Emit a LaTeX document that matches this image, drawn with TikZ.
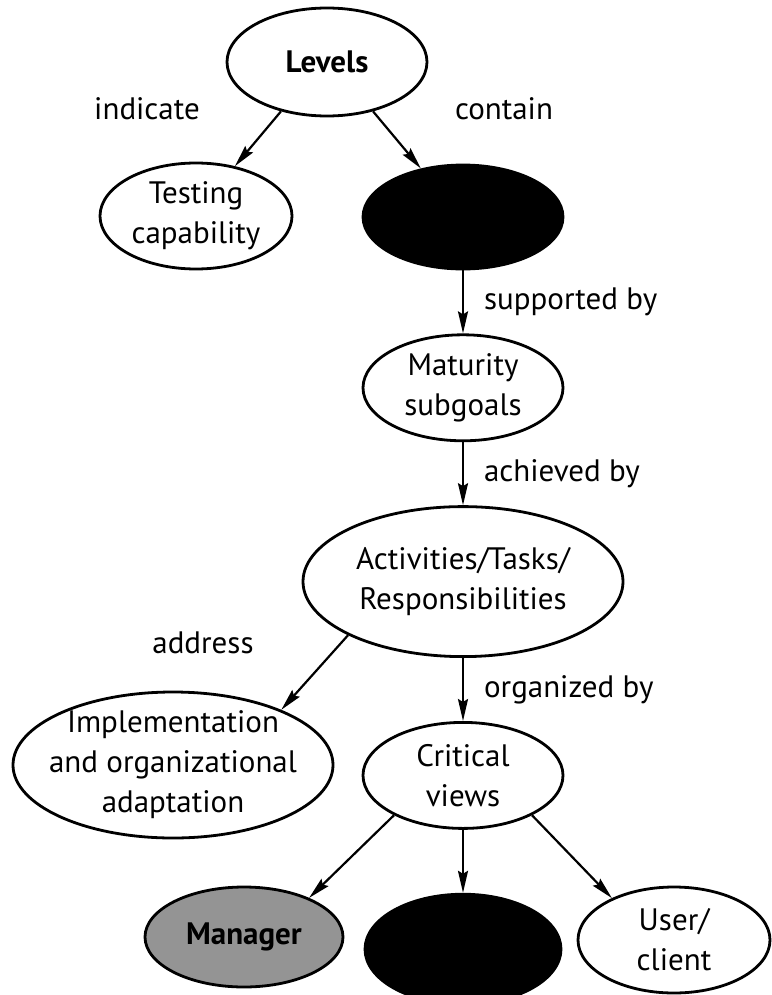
\documentclass[tikz,border=0pt]{standalone}
\usepackage{fontspec}
\setmainfont{PT Sans}
\usetikzlibrary{arrows.meta,shapes.geometric,positioning}

\begin{document}
\begin{tikzpicture}[
        x=0.5pt, y=-0.5pt,
        node distance=31.5pt,
        every node/.style={font=\fontsize{15.5}{20}\selectfont, align=center},
        bubble/.style={draw, ellipse, line width=1.4pt, inner sep=0pt},
        hidden/.style={bubble, fill=black},
        link/.style={line width=1.1pt, -{Stealth[length=11pt, width=5pt, inset=1.5pt]}},
        lbl/.style={inner sep=0pt}
    ]
    \useasboundingbox (0,0) rectangle (771,995);

    % Nodes
    \node (levels) [bubble, minimum width=100pt, minimum height=54pt] at (327,62) {\textbf{Levels}};
    \node (testing) [bubble, minimum width=96pt, minimum height=53pt] at (196,216) {Testing\\capability};
    \node (goals) [hidden, minimum width=100pt, minimum height=52pt] at (463,217) {};
    \node (subgoals) [bubble, below=of goals, minimum width=100pt, minimum height=53pt] {Maturity\\subgoals};
    \node (tasks) [bubble, below=of subgoals, minimum width=160pt, minimum height=75pt] {Activities/Tasks/\\Responsibilities};
    \node (views) [bubble, below=of tasks, minimum width=100pt, minimum height=53pt] {Critical\\views};
    \node (developer) [hidden, below=of views, minimum width=98pt, minimum height=55pt] {};
    \node (impl) [bubble, minimum width=160pt, minimum height=73pt, inner xsep=-9pt, inner ysep=-5pt] at (173,765) {Implementation\\and organizational\\adaptation};
    \node (manager) [bubble, fill=black!42, minimum width=99pt, minimum height=50pt] at (244,937) {\textbf{Manager}};
    \node (user) [bubble, minimum width=96pt, minimum height=53pt] at (674,940) {User/\\client};

    % Labels
    \node (indicate) at (147,109) {indicate};
    \node (contain) at (504,109) {contain};
    \node (address) at (203,643) {address};

    % Edges
    \draw[link] (levels.-133) -- (testing.52);
    \draw[link] (levels.-47) -- (goals.131);
    \draw[link] (goals) -- node[lbl, right=10pt] {supported by} (subgoals);
    \draw[link] (subgoals) -- node[lbl, right=10pt] {achieved by} (tasks);
    \draw[link] (tasks.-155) -- (impl.27);
    \draw[link] (tasks) -- node[lbl, right=10pt] {organized by} (views);
    \draw[link] (views.-150) -- (manager.31);
    \draw[link] (views) -- (developer);
    \draw[link] (views.-30) -- (user.146);

\end{tikzpicture}
\end{document}
